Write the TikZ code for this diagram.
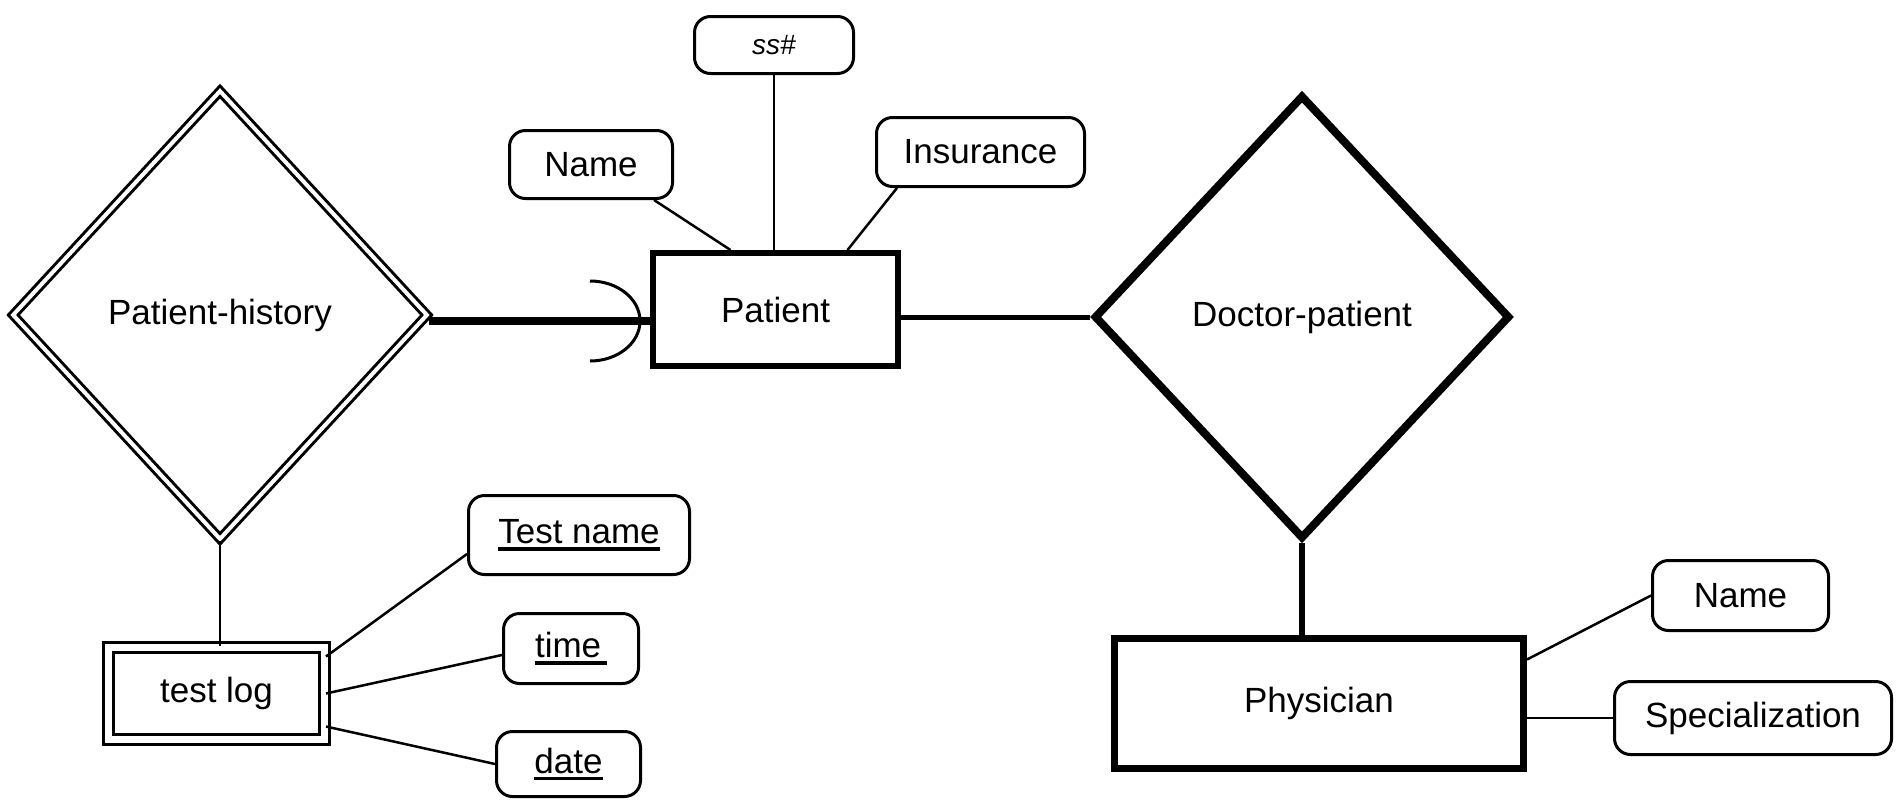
\documentclass[tikz,border=0pt]{standalone}
\usepackage{fontspec}
\setmainfont{Liberation Sans}
\usetikzlibrary{shapes.geometric,calc}
\newcommand{\keyul}[1]{\setbox0\hbox{#1}\rlap{\rule[-7pt]{\wd0}{3.5pt}}\box0}
\tikzset{
  lbl/.style={font=\fontsize{35}{40}\selectfont},
  entity/.style={draw, rectangle, line width=6pt, inner sep=0pt, lbl},
  weakentity/.style={draw, rectangle, double, double distance=7pt, line width=3pt, inner sep=0pt, lbl},
  attr/.style={draw, rectangle, rounded corners=16pt, line width=3pt, inner sep=0pt, lbl},
  rel/.style={draw, diamond, line width=8pt, inner sep=0pt, lbl},
  weakrel/.style={draw, diamond, double, double distance=4pt, line width=3pt, inner sep=0pt, lbl},
  thinlink/.style={line width=2.5pt},
  thicklink/.style={line width=6pt},
}
\begin{document}
\begin{tikzpicture}[x=1pt,y=-1pt]
\useasboundingbox (0,0) rectangle (1897,803);
% relationships
\node[weakrel, minimum width=415pt, minimum height=449pt] (ph) at (220,315) {Patient-history};
\node[rel, minimum width=416pt, minimum height=444pt] (dp) at (1302,317) {Doctor-patient};
% entities
\node[entity, minimum width=245pt, minimum height=113pt] (patient) at (775.5,309.5) {Patient};
\node[entity, line width=7pt, minimum width=409pt, minimum height=130pt] (phys) at (1319,703.5) {Physician};
\node[weakentity, minimum width=216pt, minimum height=92pt] (tl) at (216.5,693.5) {test log};
% attributes
\node[attr, minimum width=159pt, minimum height=57pt, font=\fontsize{28}{32}\selectfont\itshape] (ss) at (774,45) {ss\#};
\node[attr, minimum width=163pt, minimum height=68pt] (name) at (591,164.5) {Name};
\node[attr, minimum width=208pt, minimum height=69pt] (ins) at (980.5,152) {Insurance};
\node[attr, minimum width=221pt, minimum height=79pt] (tn) at (579,535) {\keyul{Test name}};
\node[attr, minimum width=135pt, minimum height=70pt] (time) at (571,648.5) {\keyul{time\,}};
\node[attr, minimum width=144pt, minimum height=65pt] (date) at (568.5,764) {\keyul{date}};
\node[attr, minimum width=176pt, minimum height=70pt] (pname) at (1740.5,595.5) {Name};
\node[attr, minimum width=277pt, minimum height=73pt] (spec) at (1753,718) {Specialization};
% connectors
\coordinate (a) at ([yshift=-6pt]ph.east -| patient.west);
\draw[line width=8pt] ([yshift=-6pt]ph.east) -- (a);
\draw[line width=3pt] ([xshift=-60pt,yshift=40pt]a) arc[start angle=90, end angle=-90, x radius=50pt, y radius=40pt];
\draw[line width=5pt] (dp.west -| patient.east) -- (dp.west);
\draw[thicklink] (dp.south) -- (dp.south |- phys.north);
\draw[thinlink] (ph.south) -- (ph.south |- tl.north);
\draw[thinlink] (ss.south) -- (ss.south |- patient.north);
\draw[thinlink] ([xshift=-20pt]name.south east) -- ([xshift=-45pt]patient.north);
\draw[thinlink] ([xshift=22pt]ins.south west) -- ([xshift=72pt]patient.north);
\draw[thinlink] ([yshift=37pt]tl.east) -- ([yshift=-19pt]tn.west);
\draw[thinlink] (tl.east) -- ([yshift=-6.5pt]time.west);
\draw[thinlink] ([yshift=-33pt]tl.east) -- (date.west);
\draw[thinlink] ([yshift=44pt]phys.east) -- (pname.west);
\draw[thinlink] (spec.west -| phys.east) -- (spec.west);
\end{tikzpicture}
\end{document}
